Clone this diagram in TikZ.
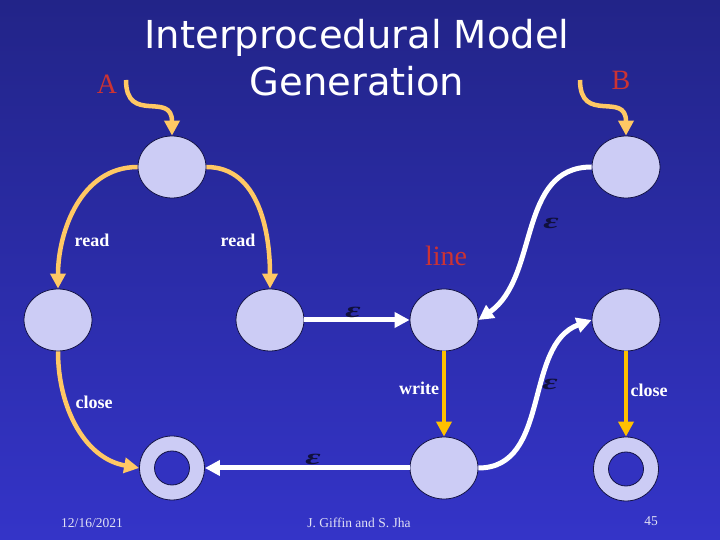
\documentclass[tikz,border=0pt]{standalone}
\usepackage{fontspec}
\usepackage{graphicx}
\setmainfont{Liberation Serif}
\newfontfamily\titlefont{DejaVu Sans}
\usetikzlibrary{arrows.meta, positioning, calc, shapes.geometric}

\definecolor{bgtop}{RGB}{34,36,136}
\definecolor{bgbot}{RGB}{52,52,200}
\definecolor{stfill}{RGB}{204,204,245}
\definecolor{stline}{RGB}{20,20,70}
\definecolor{arcorange}{RGB}{255,200,100}
\definecolor{lineorange}{RGB}{255,192,0}
\definecolor{epscol}{RGB}{16,16,60}
\definecolor{redlbl}{RGB}{204,51,51}
\definecolor{footcol}{RGB}{225,225,245}

\newcommand{\epsl}{\scalebox{1.7}[1]{\itshape\bfseries ε}}

\begin{document}
\begin{tikzpicture}[x=1pt, y=1pt,
    st/.style={draw=stline, line width=0.8pt, fill=stfill, ellipse,
               minimum width=68pt, minimum height=62pt, inner sep=0pt},
    fin/.style={st, minimum width=65pt, minimum height=64pt,
                path picture={\filldraw[fill=bgbot!87!bgtop, draw=stline, line width=0.8pt]
                  (path picture bounding box.center) ellipse[x radius=17.5pt, y radius=17pt];}},
    oarc/.style={draw=arcorange, line width=4.5pt, -{Triangle[length=15pt,width=15pt]}},
    ostr/.style={draw=lineorange, line width=4pt, -{Triangle[length=15pt,width=15pt]}},
    warc/.style={draw=white, line width=5pt, -{Triangle[length=15pt,width=15pt]}},
    tr/.style={font=\fontsize{18}{20}\selectfont\bfseries, text=white, inner sep=0pt},
    eps/.style={text=epscol, inner sep=0pt, font=\fontsize{22}{24}\selectfont},
    big/.style={font=\fontsize{28}{30}\selectfont, text=redlbl, inner sep=0pt},
    foot/.style={font=\fontsize{13.5}{15}\selectfont, text=footcol, inner sep=0pt},
]
\shade[top color=bgtop, bottom color=bgbot] (0,0) rectangle (720,540);
\useasboundingbox (0,0) rectangle (720,540);

% title
\node[anchor=north, align=center, text=white, inner sep=0pt,
      font=\titlefont\fontsize{38.5}{47}\selectfont] (ttl) at (357,521)
      {Interprocedural Model\\Generation};

% states
\node[st] (nA)   at (172,373) {};
\node[st] (nB)   at (626,373) {};
\node[st] (nL)   at (58,220) {};
\node[st] (nM)   at (270,220) {};
\node[st] (nLn)  at (444,220) {};
\node[st] (nR)   at (626,220) {};
\node[fin] (fL)  at (172,72) {};
\node[st] (nW)   at (444,72) {};
\node[fin] (fR)  at (626,71) {};

% entry points
\node[big, anchor=base] (lA) at (107,446) {A};
\node[big, anchor=base] (lB) at (621,450) {B};
\node[big, anchor=base] (lLn) at (446,274) {line};
\coordinate (sA) at (126,460);
\coordinate (sB) at (580,460);
\draw[oarc] (sA) .. controls +(0,-45) and +(0,45) .. (nA.north);
\draw[oarc] (sB) .. controls +(0,-45) and +(0,45) .. (nB.north);

% program A
\draw[oarc] (nA.west) to[out=180,in=90] (nL.north);
\draw[oarc] (nA.east) to[out=0,in=90] (nM.north);
\draw[oarc] (nL.south) to[out=-90,in=170] (fL.west);
\node[tr] (rd1) at (92,300) {read};
\node[tr] (rd2) at (238,300) {read};
\node[tr] (cl1) at (94,138) {close};

% program B and the epsilon edges
\draw[warc] (nM.east) -- (nLn.west);
\draw[warc] (nB.west) to[out=180,in=35] (nLn.east);
\draw[ostr] (nLn.south) -- (nW.north);
\draw[warc] (nW.east) to[out=0,in=200] (nR.west);
\draw[ostr] (nR.south) -- (fR.north);
\draw[warc] (nW.west) -- (fL.east);
\node[tr] (wr) at (419,152) {write};
\node[tr] (cl2) at (649,150) {close};
\node[eps] (e1) at (353,228) {\epsl};
\node[eps] (e2) at (551,317) {\epsl};
\node[eps] (e3) at (550,156) {\epsl};
\node[eps] (e4) at (313,81) {\epsl};

% footer
\node[foot, anchor=base] (dt) at (92,12) {12/16/2021};
\node[foot, anchor=base] (au) at (359,12) {J. Giffin and S. Jha};
\node[foot, anchor=base] (pg) at (651,14) {45};
\end{tikzpicture}
\end{document}
